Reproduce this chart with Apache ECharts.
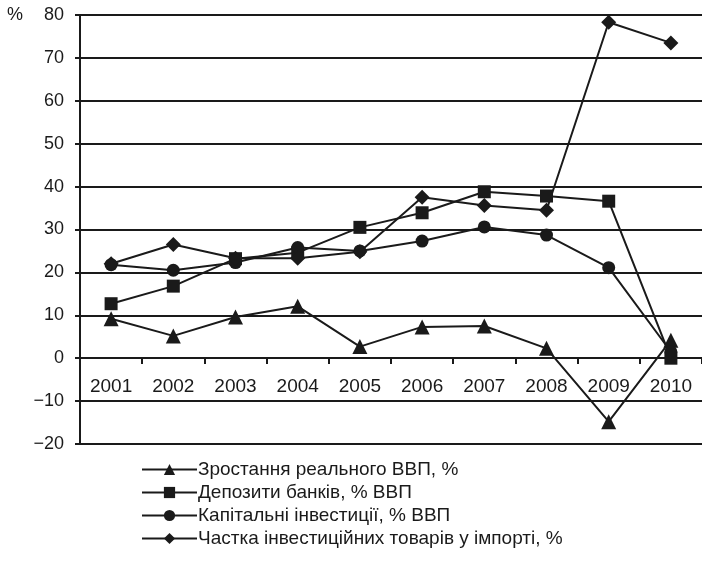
<!DOCTYPE html>
<html>
<head>
<meta charset="utf-8">
<script src="https://cdn.jsdelivr.net/npm/echarts@6/dist/echarts.min.js"></script>
<style>
  html, body { margin: 0; padding: 0; background: #fff; }
  #chart { width: 702px; height: 562px; }
</style>
</head>
<body>
<div id="chart"></div>
<script>
const years = ['2001', '2002', '2003', '2004', '2005', '2006', '2007', '2008', '2009', '2010']
const gdpGrowth = [9.2, 5.2, 9.6, 12.1, 2.7, 7.3, 7.5, 2.3, -14.8, 4.2]
const deposits = [12.7, 16.8, 23.2, 24.6, 30.5, 33.9, 38.8, 37.8, 36.6, 0]
const capInvest = [21.8, 20.5, 22.3, 25.8, 25.0, 27.3, 30.6, 28.7, 21.1, 1.5]
const importShare = [22.0, 26.5, 23.3, 23.3, 24.8, 37.5, 35.6, 34.5, 78.3, 73.5]
const names = [
  'Зростання реального ВВП, %',
  'Депозити банків, % ВВП',
  'Капітальні інвестиції, % ВВП',
  'Частка інвестиційних товарів у імпорті, %'
]

const font = 'Liberation Sans, Arial, sans-serif'
const ink = '#1a1a1a'
const chart = echarts.init(document.getElementById('chart'))

const mk = (name, data, symbol, size) => ({
  name,
  type: 'line',
  data,
  symbol,
  symbolSize: size,
  showAllSymbol: true,
  itemStyle: { color: ink },
  lineStyle: { color: ink, width: 2 },
  emphasis: { disabled: true }
})

chart.setOption({
  animation: false,
  grid: { left: 80, right: -9, top: 15, bottom: 118 },
  graphic: [{
    type: 'text', left: 7, top: 6,
    style: { text: '%', font: '18px ' + font, fill: ink }
  }],
  legend: {
    orient: 'vertical',
    left: 141,
    top: 460,
    padding: 0,
    itemWidth: 55,
    itemHeight: 14,
    itemGap: 4,
    textStyle: { fontFamily: font, fontSize: 19, color: ink, padding: [0, 0, 0, -4] },
    data: names
  },
  xAxis: {
    type: 'category',
    data: years,
    boundaryGap: true,
    position: 'bottom',
    offset: -86,
    axisLine: { onZero: false, lineStyle: { color: ink, width: 2 } },
    axisTick: { show: true, length: 6, lineStyle: { color: ink, width: 2 } },
    axisLabel: { fontFamily: font, fontSize: 19, color: ink, margin: 19 },
    splitLine: { show: false }
  },
  yAxis: {
    type: 'value',
    min: -20,
    max: 80,
    interval: 10,
    axisLine: { show: true, lineStyle: { color: ink, width: 2 } },
    axisTick: { show: true, length: 5, lineStyle: { color: ink, width: 2 } },
    axisLabel: {
      fontFamily: font, fontSize: 18, color: ink, margin: 16,
      formatter: v => String(v).replace('-', '−')
    },
    splitLine: { show: true, lineStyle: { color: ink, width: 2 } }
  },
  series: [
    mk(names[0], gdpGrowth, 'triangle', 15),
    mk(names[1], deposits, 'rect', 13),
    mk(names[2], capInvest, 'circle', 13),
    mk(names[3], importShare, 'diamond', 15)
  ]
})
</script>
</body>
</html>
